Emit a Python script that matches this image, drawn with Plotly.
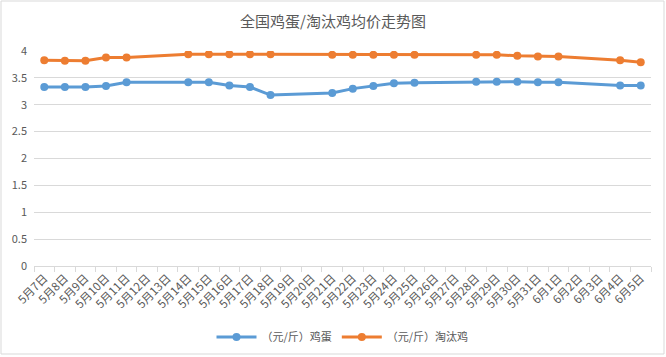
import plotly.graph_objects as go

dates = ["5月7日","5月8日","5月9日","5月10日","5月11日","5月12日","5月13日","5月14日","5月15日","5月16日",
         "5月17日","5月18日","5月19日","5月20日","5月21日","5月22日","5月23日","5月24日","5月25日","5月26日",
         "5月27日","5月28日","5月29日","5月30日","5月31日","6月1日","6月2日","6月3日","6月4日","6月5日"]
egg = [3.33,3.33,3.33,3.35,3.42,None,None,3.42,3.42,3.36,
       3.33,3.18,None,None,3.22,3.30,3.35,3.40,3.41,None,
       None,3.43,3.43,3.43,3.42,3.42,None,None,3.36,3.36]
hen = [3.83,3.82,3.82,3.88,3.88,None,None,3.94,3.94,3.94,
       3.94,3.94,None,None,3.93,3.93,3.93,3.93,3.93,None,
       None,3.93,3.93,3.91,3.90,3.90,None,None,3.83,3.79]
names = ["（元/斤）鸡蛋", "（元/斤）淘汰鸡"]
colors = ["#5B9BD5", "#ED7D31"]

fig = go.Figure()
for name, vals, c in zip(names, [egg, hen], colors):
    fig.add_trace(go.Scatter(x=dates, y=vals, name=name, mode="lines+markers", connectgaps=True,
                             line=dict(color=c, width=3), marker=dict(color=c, size=8)))

font = "Noto Sans CJK SC"
fig.update_layout(
    width=666, height=357,
    margin=dict(l=34, r=15, t=51, b=91, autoexpand=False),
    paper_bgcolor="white", plot_bgcolor="white",
    font=dict(family=font, color="#595959", size=11),
    title=dict(text="全国鸡蛋/淘汰鸡均价走势图", x=0.5, xanchor="center", y=0.94, yanchor="middle",
               font=dict(size=15, color="#595959", family=font)),
    showlegend=True,
    legend=dict(orientation="h", x=0.5, xanchor="center", y=-0.33, yanchor="middle",
                font=dict(size=11, color="#595959"), itemwidth=40, tracegroupgap=0),
    xaxis=dict(type="category", tickangle=-45, tickson="boundaries", ticks="outside", ticklen=5,
               tickcolor="#D9D9D9", showline=True, linecolor="#D9D9D9", showgrid=False, automargin=False,
               tickfont=dict(size=11.5, color="#595959"), range=[-0.5, 29.5]),
    yaxis=dict(range=[0, 4], dtick=0.5, showgrid=True, gridcolor="#D9D9D9", zeroline=False, automargin=False,
               showline=False, tickfont=dict(size=11, color="#595959"), ticklabelstandoff=6),
    shapes=[dict(type="rect", xref="paper", yref="paper", x0=-33/617, x1=1+13/617,
                 y0=-88/215, y1=1+50/215, line=dict(color="#D9D9D9", width=1), layer="below")],
)
fig.write_html("out.html", config={"displayModeBar": False},
               post_script="document.body.style.margin='0';document.body.style.overflow='hidden';")
